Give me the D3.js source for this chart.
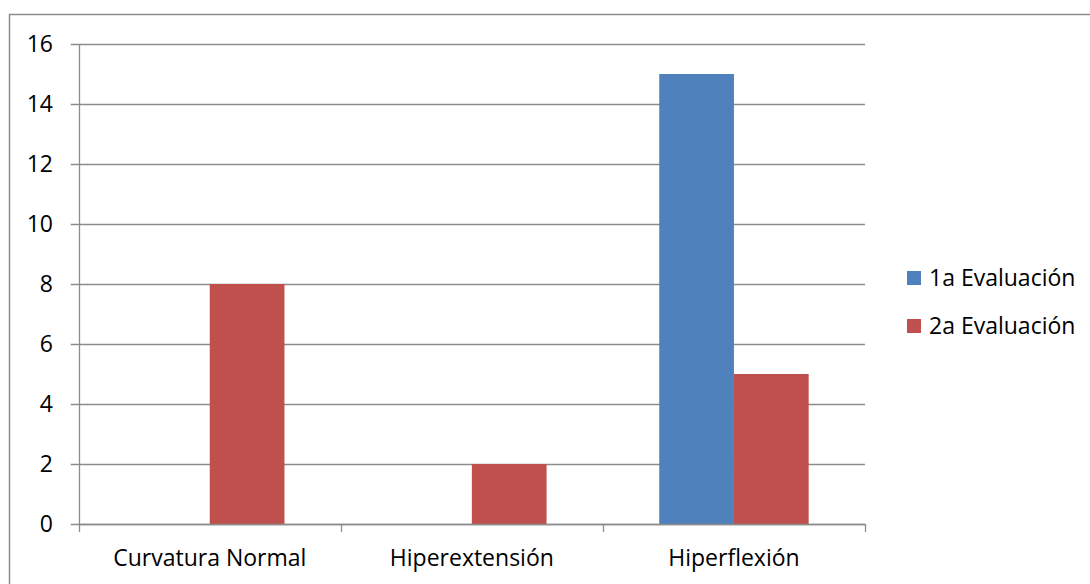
<!DOCTYPE html>
<html>
<head>
<meta charset="utf-8">
<script src="https://cdn.jsdelivr.net/npm/d3@7/dist/d3.min.js"></script>
<style>
  html, body { margin: 0; padding: 0; background: #fff; }
  svg { display: block; }
  text { font-family: "Open Sans", sans-serif; fill: #000; }
</style>
</head>
<body>
<svg id="chart" width="1090" height="584"></svg>
<script>
// Chart data
const categories = ["Curvatura Normal", "Hiperextensión", "Hiperflexión"];
const seriesNames = ["1a Evaluación", "2a Evaluación"];
const evaluacion1 = [0, 0, 15];
const evaluacion2 = [8, 2, 5];
const yTicks = [0, 2, 4, 6, 8, 10, 12, 14, 16];
const colors = ["#4F81BD", "#C0504D"];

const seriesValues = [evaluacion1, evaluacion2];

const svg = d3.select("#chart");
const fontSize = 23;
const gridColor = "#8c8c8c";

// Chart frame
svg.append("rect")
  .attr("x", 9.5).attr("y", 14.5)
  .attr("width", 1100).attr("height", 600)
  .attr("fill", "none")
  .attr("stroke", gridColor)
  .attr("stroke-width", 1.5);

const plot = { left: 78.7, right: 865, top: 44, bottom: 524 };

const x0 = d3.scaleBand()
  .domain(categories)
  .range([plot.left, plot.right])
  .paddingInner(0).paddingOuter(0);

const x1 = d3.scaleBand()
  .domain(seriesNames)
  .range([0, x0.bandwidth()])
  .paddingInner(0)
  .paddingOuter(0.754);

const y = d3.scaleLinear()
  .domain([0, 16])
  .range([plot.bottom, plot.top]);

// Horizontal gridlines (extend left as tick marks)
svg.append("g")
  .selectAll("line")
  .data(yTicks)
  .join("line")
  .attr("x1", plot.left - 8)
  .attr("x2", plot.right)
  .attr("y1", d => Math.round(y(d)) + 0.5)
  .attr("y2", d => Math.round(y(d)) + 0.5)
  .attr("stroke", gridColor)
  .attr("stroke-width", 1.3);

// Y axis labels
svg.append("g")
  .selectAll("text")
  .data(yTicks)
  .join("text")
  .attr("x", 53)
  .attr("y", d => y(d))
  .attr("dy", "0.36em")
  .attr("text-anchor", "end")
  .style("font-size", fontSize + "px")
  .text(d => d);

// Y axis line
svg.append("line")
  .attr("x1", Math.round(plot.left) + 0.5).attr("x2", Math.round(plot.left) + 0.5)
  .attr("y1", plot.top).attr("y2", plot.bottom)
  .attr("stroke", gridColor).attr("stroke-width", 1.3);

// Bars
const groups = svg.append("g")
  .selectAll("g")
  .data(categories.map((c, i) => ({ c, i })))
  .join("g")
  .attr("transform", d => `translate(${x0(d.c)},0)`);

groups.selectAll("rect")
  .data(d => seriesNames.map((s, k) => ({ s, k, v: seriesValues[k][d.i] })))
  .join("rect")
  .attr("x", d => x1(d.s))
  .attr("width", x1.bandwidth())
  .attr("y", d => y(d.v))
  .attr("height", d => y(0) - y(d.v))
  .attr("fill", d => colors[d.k]);

// X axis baseline and category tick marks
svg.append("line")
  .attr("x1", plot.left).attr("x2", plot.right)
  .attr("y1", Math.round(y(0)) + 0.5).attr("y2", Math.round(y(0)) + 0.5)
  .attr("stroke", gridColor).attr("stroke-width", 1.3);

const boundaries = categories.map(c => x0(c)).concat([plot.right]);
svg.append("g")
  .selectAll("line")
  .data(boundaries)
  .join("line")
  .attr("x1", d => Math.round(d) + 0.5).attr("x2", d => Math.round(d) + 0.5)
  .attr("y1", y(0)).attr("y2", y(0) + 8)
  .attr("stroke", gridColor).attr("stroke-width", 1.3);

// Category labels
svg.append("g")
  .selectAll("text")
  .data(categories)
  .join("text")
  .attr("x", d => x0(d) + x0.bandwidth() / 2)
  .attr("y", 566)
  .attr("text-anchor", "middle")
  .style("font-size", fontSize + "px")
  .text(d => d);

// Legend
const legend = svg.append("g")
  .selectAll("g")
  .data(seriesNames)
  .join("g")
  .attr("transform", (d, i) => `translate(907,${271 + i * 48})`);

legend.append("rect")
  .attr("width", 14).attr("height", 14)
  .attr("fill", (d, i) => colors[i]);

legend.append("text")
  .attr("x", 22)
  .attr("y", 15)
  .style("font-size", fontSize + "px")
  .text(d => d);
</script>
</body>
</html>
